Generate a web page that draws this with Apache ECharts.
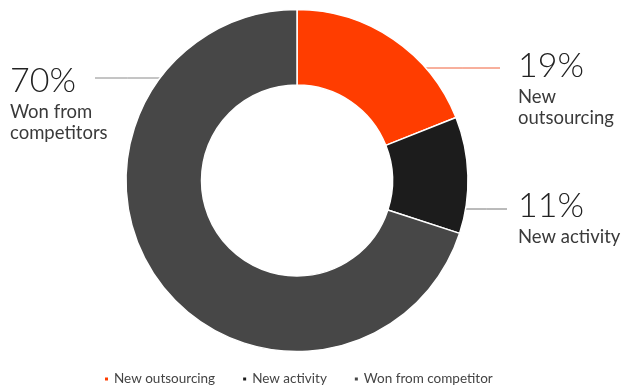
<!DOCTYPE html>
<html>
<head>
<meta charset="utf-8">
<script src="https://cdn.jsdelivr.net/npm/echarts@6/dist/echarts.min.js"></script>
<style>
  html, body { margin: 0; padding: 0; background: #fff; }
  #chart { width: 621px; height: 392px; }
</style>
</head>
<body>
<div id="chart"></div>
<script>
// Share of new business by source
const categories = ['New outsourcing', 'New activity', 'Won from competitor'];
const shares = [19, 11, 70];
const captions = ['New\noutsourcing', 'New activity', 'Won from\ncompetitors'];
const colors = ['#FF3D00', '#1C1C1C', '#474747'];

// Ring geometry and callout placement (pixels)
const CX = 297, CY = 180.5, R_IN = 95.5, R_OUT = 171;
const callouts = [
  { lineY: 68,  side: 'right', lineEnd: 500, textX: 518, textY: 45,  lineColor: '#F0603A' },
  { lineY: 209, side: 'right', lineEnd: 507, textX: 518, textY: 185, lineColor: '#777777' },
  { lineY: 78,  side: 'left',  lineEnd: 95,  textX: 10,  textY: 60,  lineColor: '#8a8a8a' }
];

const chart = echarts.init(document.getElementById('chart'), null, { renderer: 'canvas' });

const data = categories.map((name, i) => ({
  name,
  value: shares[i],
  itemStyle: { color: colors[i] },
  label: {
    formatter: '{p|' + shares[i] + '%}\n{c|' + captions[i] + '}'
  },
  labelLine: { lineStyle: { color: callouts[i].lineColor, width: 1 } }
}));

chart.setOption({
  backgroundColor: '#ffffff',
  animation: false,
  legend: {
    data: categories,
    left: 98,
    top: 367,
    icon: 'rect',
    itemWidth: 5,
    itemHeight: 5,
    itemGap: 26,
    textStyle: { fontFamily: 'Lato', fontSize: 13.5, color: '#444' }
  },
  series: [{
    type: 'pie',
    center: [CX, CY],
    radius: [R_IN, R_OUT],
    startAngle: 90,
    clockwise: true,
    avoidLabelOverlap: false,
    itemStyle: { borderColor: '#ffffff', borderWidth: 1.5 },
    label: {
      show: true,
      position: 'outside',
      align: 'left',
      verticalAlign: 'top',
      rich: {
        p: { fontFamily: 'Lato', fontWeight: 300, fontSize: 34, lineHeight: 42, color: '#222' },
        c: { fontFamily: 'Lato', fontSize: 18.5, lineHeight: 21, color: '#3a3a3a' }
      }
    },
    labelLine: { show: true, length: 10, length2: 10 },
    emphasis: { disabled: true },
    labelLayout: function (params) {
      const c = callouts[params.dataIndex];
      const dy = c.lineY - CY;
      const dx = Math.sqrt(R_OUT * R_OUT - dy * dy);
      const edgeX = c.side === 'right' ? CX + dx : CX - dx;
      return {
        x: c.textX,
        y: c.textY,
        align: 'left',
        verticalAlign: 'top',
        labelLinePoints: [[edgeX, c.lineY], [(edgeX + c.lineEnd) / 2, c.lineY], [c.lineEnd, c.lineY]]
      };
    },
    data
  }]
});
</script>
</body>
</html>
